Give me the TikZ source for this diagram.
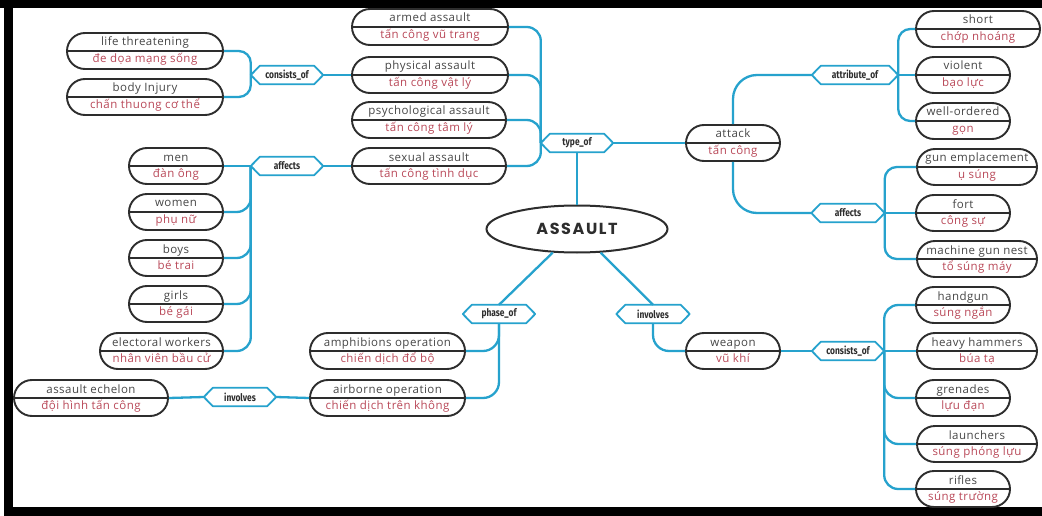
\documentclass[tikz,border=0pt]{standalone}
\usepackage{fontspec}
\setmainfont{Open Sans}
\newfontfamily\pillfont[LetterSpace=4]{Open Sans}
\newfontfamily\hexfont[FakeStretch=0.8]{Fira Sans}
\newfontfamily\bigfont[LetterSpace=10]{Poppins}
\usetikzlibrary{shapes.misc,shapes.geometric}
\definecolor{linkblue}{RGB}{38,162,205}
\definecolor{pilldark}{RGB}{45,45,45}
\definecolor{toptxt}{RGB}{70,70,70}
\definecolor{bottxt}{RGB}{185,72,88}
\tikzset{
 pill/.style={rounded rectangle, draw=pilldark, line width=1.9pt, fill=white, minimum height=36pt, inner sep=0pt},
 pillline/.style={draw=pilldark, line width=1.6pt},
 toptext/.style={inner sep=0pt, text height=7pt, text depth=2pt, font=\pillfont\fontsize{11.5}{13}\selectfont, text=toptxt},
 bottext/.style={inner sep=0pt, text height=7pt, text depth=2pt, font=\pillfont\fontsize{11.5}{13}\selectfont, text=bottxt},
 hexbox/.style={inner sep=0pt, minimum height=18pt, font=\hexfont\bfseries\fontsize{10.5}{12}\selectfont, text=pilldark},
 hexline/.style={draw=linkblue, line width=1.8pt, line join=round},
 link/.style={draw=linkblue, line width=2.3pt, rounded corners=14pt},
 biglink/.style={draw=linkblue, line width=2.3pt, rounded corners=24pt},
 centre/.style={ellipse, draw=pilldark, line width=2pt, fill=white, minimum width=181pt, minimum height=47pt, inner sep=0pt, font=\bigfont\bfseries\fontsize{16}{18}\selectfont, text=pilldark}
}
\newcommand\mypill[5]{%
 \node[pill, minimum width=#3] (#1) at (#2) {};
 \draw[pillline] (#1.west) -- (#1.east);
 \node[toptext] (#1-t) at ([yshift=7.5pt]#1.center) {#4};
 \node[bottext] (#1-b) at ([yshift=-9pt]#1.center) {#5};
}
\newcommand\hexnode[4]{%
 \node[hexbox, minimum width=#3] (#1) at (#2) {#4};
 \draw[hexline] (#1.west) -- ([xshift=9pt]#1.north west) -- ([xshift=-9pt]#1.north east) -- (#1.east) -- ([xshift=-9pt]#1.south east) -- ([xshift=9pt]#1.south west) -- cycle;
}
\begin{document}
\begin{tikzpicture}[x=1pt,y=-1pt]
\useasboundingbox (0,0) rectangle (1042,516);
\fill[white] (0,0) rectangle (1042,516);
\fill[black] (0,0) rectangle (1042,8);
\fill[black] (4,0) rectangle (13,516);
\fill[black] (4,507) rectangle (1042,516);

% pills
\mypill{lt}{145,51}{156}{life threatening}{đe dọa mạng sống}
\mypill{bi}{145,97}{156}{body Injury}{chấn thuong cơ thể}
\mypill{men}{176,166}{94}{men}{đàn ông}
\mypill{women}{176,212}{94}{women}{phụ nữ}
\mypill{boys}{176,258}{94}{boys}{bé trai}
\mypill{girls}{176,304}{94}{girls}{bé gái}
\mypill{ew}{161.5,351}{123}{electoral workers}{nhân viên bầu cử}
\mypill{armed}{430,27}{156}{armed assault}{tấn công vũ trang}
\mypill{phys}{430,75}{156}{physical assault}{tấn công vật lý}
\mypill{psych}{429,120}{154}{psychological assault}{tấn công tâm lý}
\mypill{sexual}{429,166}{154}{sexual assault}{tấn công tình dục}
\mypill{ae}{91,398}{154}{assault echelon}{đội hình tấn công}
\mypill{amph}{387.5,351}{155}{amphibions operation}{chiến dịch đổ bộ}
\mypill{air}{387.5,398}{155}{airborne operation}{chiến dịch trên không}
\mypill{attack}{733,143}{94}{attack}{tấn công}
\mypill{weapon}{733,351}{94}{weapon}{vũ khí}
\mypill{short}{978,29}{124}{short}{chớp nhoáng}
\mypill{violent}{963,75}{94}{violent}{bạo lực}
\mypill{wellord}{963,121}{94}{well-ordered}{gọn}
\mypill{gunemp}{977,167}{120}{gun emplacement}{ụ súng}
\mypill{fort}{963,213}{94}{fort}{công sự}
\mypill{mgn}{977,259}{120}{machine gun nest}{tổ súng máy}
\mypill{handgun}{963,305}{94}{handgun}{súng ngắn}
\mypill{hh}{977,351}{120}{heavy hammers}{búa tạ}
\mypill{grenades}{963,398}{94}{grenades}{lựu đạn}
\mypill{launchers}{977,444}{120}{launchers}{súng phóng lựu}
\mypill{rifles}{963,489}{94}{rifles}{súng trường}

% centre
\node[centre] (assault) at (577,229) {ASSAULT};

% relation labels
\hexnode{co1}{287,75}{72}{consists\_of}
\hexnode{aff1}{287,166}{72}{affects}
\hexnode{typeof}{577,143}{72}{type\_of}
\hexnode{attr}{855,75}{86}{attribute\_of}
\hexnode{aff2}{848,213}{73}{affects}
\hexnode{inv2}{653,314}{73}{involves}
\hexnode{co2}{848,351}{72}{consists\_of}
\hexnode{phase}{499,314}{72}{phase\_of}
\hexnode{inv1}{240,397}{72}{involves}

% connectors
\draw[link,rounded corners=12pt] (lt.east) -| (co1.west);
\draw[link,rounded corners=12pt] (bi.east) -| (co1.west);
\draw[link] (co1.east) -- (phys.west);

\draw[link] (men.east) -- (aff1.west);
\draw[link] (women.east) -| (aff1.west);
\draw[link] (boys.east) -| (aff1.west);
\draw[link] (girls.east) -| (aff1.west);
\draw[link] (ew.east) -| (aff1.west);
\draw[link] (aff1.east) -- (sexual.west);

\draw[link] (armed.east) -| (typeof.west);
\draw[link] (phys.east) -| (typeof.west);
\draw[link] (psych.east) -| (typeof.west);
\draw[link] (sexual.east) -| (typeof.west);
\draw[link] (typeof.east) -- (attack.west);
\draw[link] (typeof.south) -- (assault.north);

\draw[biglink] (attack.north) |- (attr.west);
\draw[link,rounded corners=12pt] (attr.east) |- (short.west);
\draw[link] (attr.east) -- (violent.west);
\draw[link,rounded corners=12pt] (attr.east) |- (wellord.west);

\draw[biglink] (attack.south) |- (aff2.west);
\draw[link,rounded corners=12pt] (aff2.east) |- (gunemp.west);
\draw[link] (aff2.east) -- (fort.west);
\draw[link,rounded corners=12pt] (aff2.east) |- (mgn.west);

\draw[link] (assault) -- (inv2.north);
\draw[link,rounded corners=16pt] (inv2.south) |- (weapon.west);
\draw[link] (weapon.east) -- (co2.west);
\draw[link] (co2.east) |- (handgun.west);
\draw[link] (co2.east) -- (hh.west);
\draw[link] (co2.east) |- (grenades.west);
\draw[link] (co2.east) |- (launchers.west);
\draw[link] (co2.east) |- (rifles.west);

\draw[link] (assault) -- (phase.north);
\draw[link,rounded corners=16pt] (phase.south) |- (amph.east);
\draw[link,rounded corners=16pt] (phase.south) |- (air.east);
\draw[link] (air.west) -- (inv1.east);
\draw[link] (inv1.west) -- (ae.east);
\end{tikzpicture}
\end{document}
